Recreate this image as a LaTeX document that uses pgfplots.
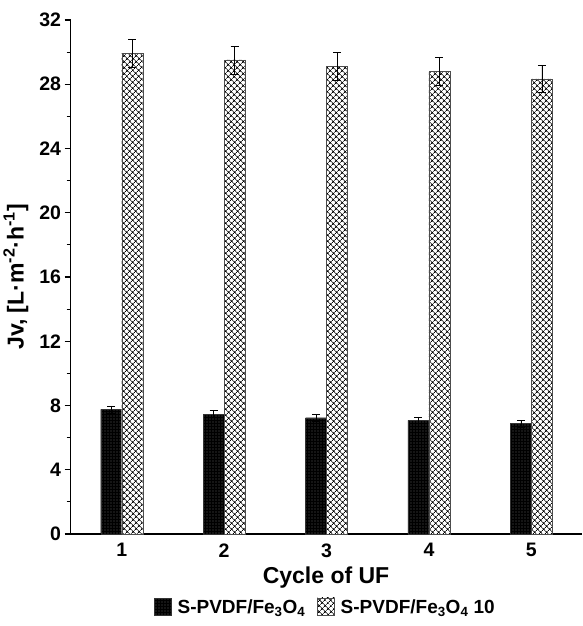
\documentclass[border=0pt]{standalone}
\usepackage{pgfplots}
\pgfplotsset{compat=1.18}
\usepackage{fontspec}
\setmainfont{Liberation Sans}
\usetikzlibrary{patterns.meta}
\begin{document}
\begin{tikzpicture}
\begin{axis}[
 scale only axis, width=511pt, height=514pt,
 xmin=0.5, xmax=5.49, ymin=0, ymax=32,
 axis x line=bottom, axis y line=left,
 axis line style={-, line width=1.4pt},
 ybar=0pt, bar width=21pt,
 xtick={1,2,3,4,5}, ytick={0,4,...,32}, minor y tick num=1,
 tick align=outside, tick style={line width=1.2pt, black},
 major tick length=6pt, minor tick length=4pt,
 x tick style={draw=none},
 ticklabel style={font=\fontsize{19.5}{23}\selectfont\bfseries},
 /pgf/number format/assume math mode=true,
 xlabel={Cycle of UF},
 ylabel={Jv, [L·m\textsuperscript{-2}·h\textsuperscript{-1}]},
 label style={font=\fontsize{23}{27}\selectfont\bfseries},
 xlabel style={at={(axis description cs:0.5,-0.0856)}, anchor=center},
 ylabel style={at={(axis description cs:-0.107,0.5)}, anchor=center},
 legend style={at={(0.499,-0.142)}, anchor=center, legend columns=2, draw=none,
   font=\fontsize{19}{22}\selectfont\bfseries,
   /tikz/every even column/.append style={column sep=10pt}},
 legend image code/.code={\draw[#1] (0pt,-8pt) rectangle (17pt,9pt);},
 error bars/y dir=both, error bars/y explicit,
 error bars/error bar style={line width=0.6pt, black},
 error bars/error mark options={rotate=90, mark size=4pt, line width=0.6pt, black},
]
\coordinate (o) at (rel axis cs:0,0);
\addplot[fill=black, draw=black!80, postaction={pattern={Dots[distance=3pt,radius=0.45pt]}, pattern color=white}]
 coordinates {(1,7.76) +- (0,0.22) (2,7.47) +- (0,0.21) (3,7.24) +- (0,0.21) (4,7.08) +- (0,0.21) (5,6.87) +- (0,0.21)};
\addlegendentry{\hspace{4pt}S-PVDF/Fe\textsubscript{3}O\textsubscript{4}}
\addplot[fill=white, draw=black!70, postaction={pattern={Hatch[angle=45,distance=4pt,line width=0.8pt]}, pattern color=black}]
 coordinates {(1,29.93) +- (0,0.87) (2,29.51) +- (0,0.87) (3,29.10) +- (0,0.87) (4,28.81) +- (0,0.87) (5,28.33) +- (0,0.85)};
\addlegendentry{\hspace{4pt}S-PVDF/Fe\textsubscript{3}O\textsubscript{4} 10}
\end{axis}
\path[use as bounding box] (o)+(-70pt,-92pt) rectangle +(511pt,534pt);
\end{tikzpicture}
\end{document}
